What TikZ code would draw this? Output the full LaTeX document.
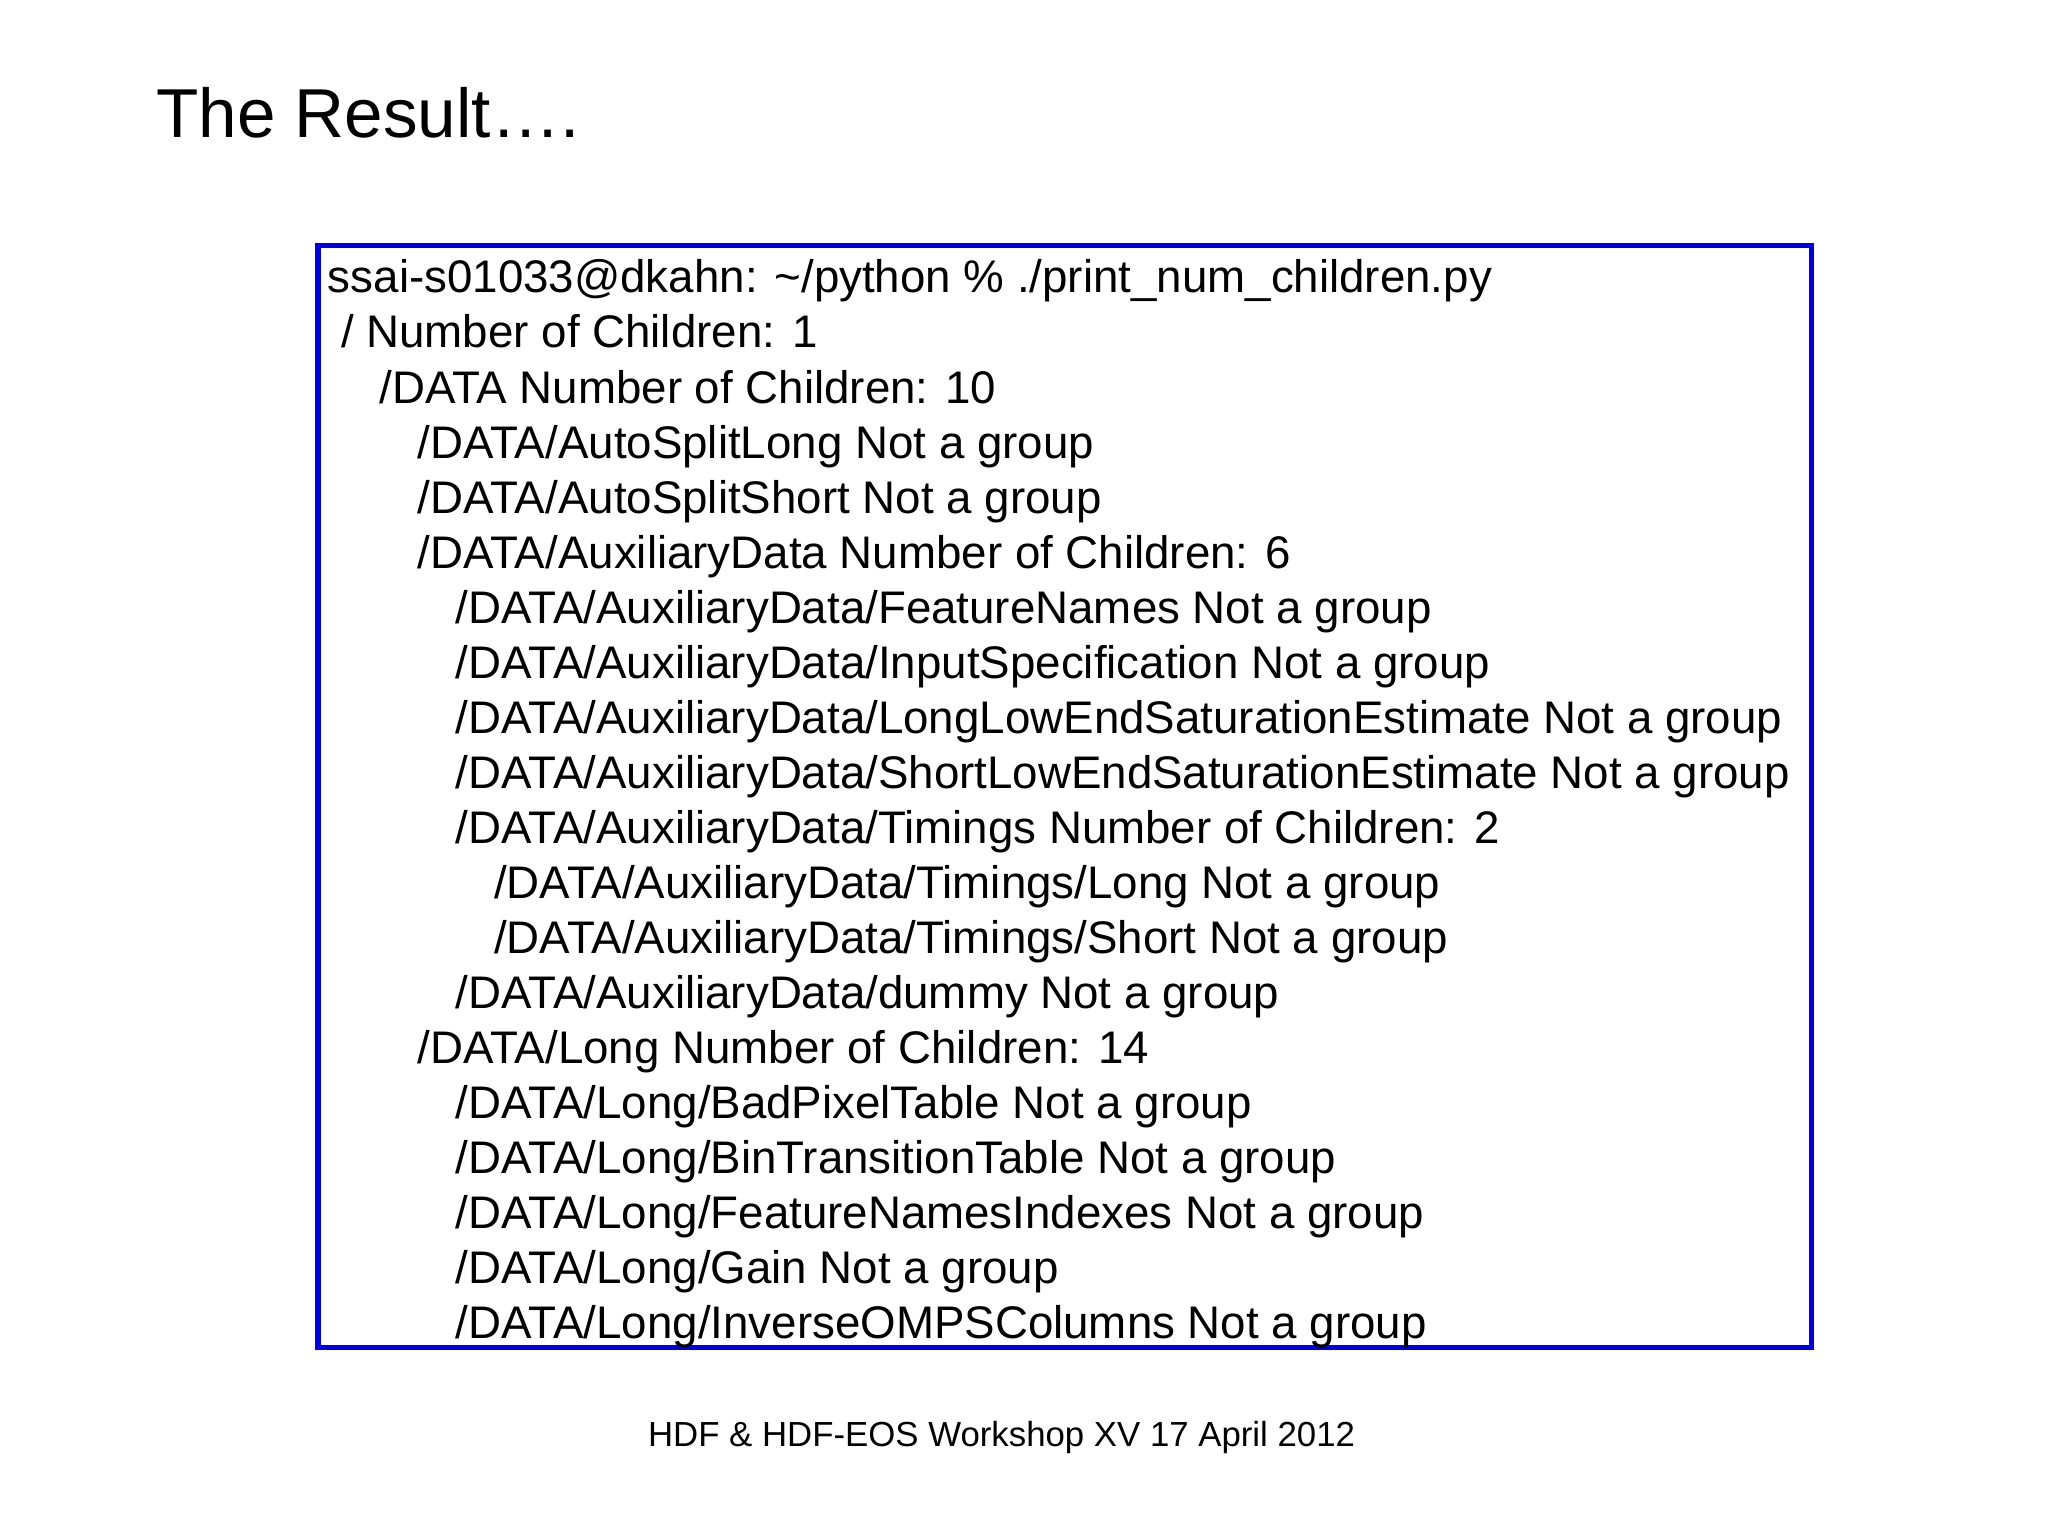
\documentclass[tikz,border=0pt]{standalone}
\usepackage{fontspec}
\setmainfont{Liberation Sans}
\begin{document}
\begin{tikzpicture}[x=0.013196cm,y=-0.013196cm,
  ln/.style={anchor=base west,inner sep=0pt,font=\fontsize{13}{15}\selectfont}]
\useasboundingbox (0,0) rectangle (1552,1164);
\node[anchor=base west,inner sep=0pt,font=\fontsize{19.7}{24}\selectfont] (title) at (118,104) {The Result….};
\draw[blue!90!black,line width=1.5pt] (241,186) rectangle (1373,1021);
\foreach \i/\x/\t in {
0/248/{ssai-s01033@dkahn: \textasciitilde/python \% ./print\_num\_children.py},
1/258/{/ Number of Children: 1},
2/287/{/DATA Number of Children: 10},
3/316/{/DATA/AutoSplitLong Not a group},
4/316/{/DATA/AutoSplitShort Not a group},
5/316/{/DATA/AuxiliaryData Number of Children: 6},
6/345/{/DATA/AuxiliaryData/FeatureNames Not a group},
7/345/{/DATA/AuxiliaryData/InputSpecification Not a group},
8/345/{/DATA/AuxiliaryData/LongLowEndSaturationEstimate Not a group},
9/345/{/DATA/AuxiliaryData/ShortLowEndSaturationEstimate Not a group},
10/345/{/DATA/AuxiliaryData/Timings Number of Children: 2},
11/374/{/DATA/AuxiliaryData/Timings/Long Not a group},
12/374/{/DATA/AuxiliaryData/Timings/Short Not a group},
13/345/{/DATA/AuxiliaryData/dummy Not a group},
14/316/{/DATA/Long Number of Children: 14},
15/345/{/DATA/Long/BadPixelTable Not a group},
16/345/{/DATA/Long/BinTransitionTable Not a group},
17/345/{/DATA/Long/FeatureNamesIndexes Not a group},
18/345/{/DATA/Long/Gain Not a group},
19/345/{/DATA/Long/InverseOMPSColumns Not a group}}
  \node[ln] (l\i) at (\x,222+41.7*\i) {\t};
\node[anchor=base,inner sep=0pt,font=\fontsize{9.9}{12}\selectfont] (foot) at (759,1096) {HDF \& HDF-EOS Workshop XV 17 April 2012};
\end{tikzpicture}
\end{document}
